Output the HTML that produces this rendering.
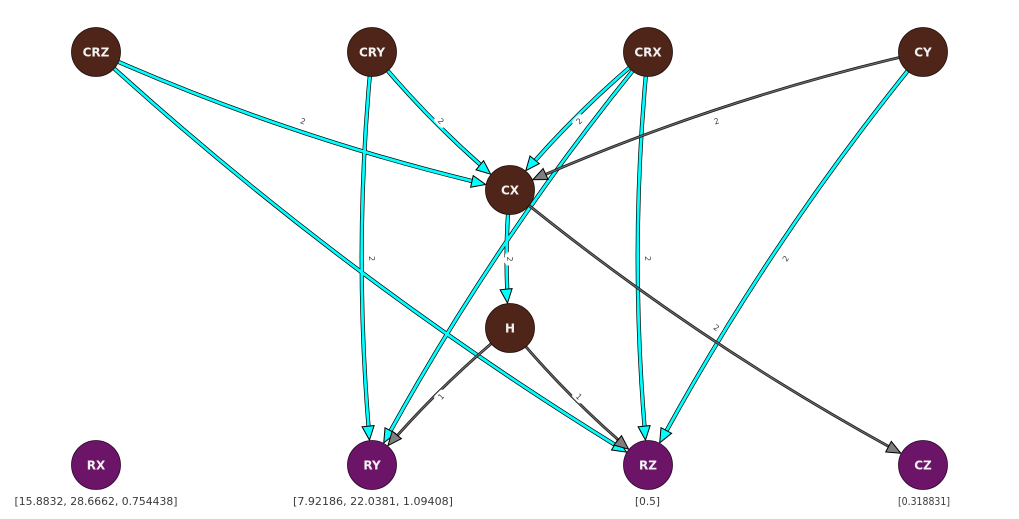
<!DOCTYPE html>
<html>
<head>
<meta charset="utf-8">
<style>
  html, body { margin: 0; padding: 0; background: #ffffff; }
  svg { display: block; }
  .nl { font-family: "DejaVu Sans", "Liberation Sans", sans-serif; font-weight: bold; font-size: 12px; fill: #f2f2f2; text-anchor: middle; }
  .bl { font-family: "DejaVu Sans", "Liberation Sans", sans-serif; font-size: 10.5px; fill: #3a3a3a; text-anchor: middle; }
  .el { font-family: "DejaVu Sans", "Liberation Sans", sans-serif; font-size: 8px; fill: #444; text-anchor: middle; }
</style>
</head>
<body>
<svg width="1019" height="519" viewBox="0 0 1019 519" xmlns="http://www.w3.org/2000/svg">
  <rect width="1019" height="519" fill="#ffffff"/>

  <!-- cyan edges: black outline -->
  <g fill="none" stroke="#000" stroke-width="4.2">
    <path d="M96,52 Q296.1,141.7 510,190" pathLength="1000" stroke-dasharray="915.2 2000"/>
    <path d="M96,52 Q351.35,286.1 648,465" pathLength="1000" stroke-dasharray="946.3 2000"/>
    <path d="M372,52 Q434.1,127.9 510,190" pathLength="1000" stroke-dasharray="810.5 2000"/>
    <path d="M372,52 Q351.35,258.5 372,465" pathLength="1000" stroke-dasharray="910.4 2000"/>
    <path d="M648,52 Q572.1,114.1 510,190" pathLength="1000" stroke-dasharray="810.5 2000"/>
    <path d="M648,52 Q489.35,244.7 372,465" pathLength="1000" stroke-dasharray="925.5 2000"/>
    <path d="M648,52 Q627.35,258.5 648,465" pathLength="1000" stroke-dasharray="910.4 2000"/>
    <path d="M923,52 Q764.85,244.75 648,465" pathLength="1000" stroke-dasharray="925.4 2000"/>
    <path d="M510,190 Q503.1,259 510,328" pathLength="1000" stroke-dasharray="731.9 2000"/>
  </g>
  <!-- cyan edges: core -->
  <g fill="none" stroke="#00ffff" stroke-width="2.8">
    <path d="M96,52 Q296.1,141.7 510,190" pathLength="1000" stroke-dasharray="915.2 2000"/>
    <path d="M96,52 Q351.35,286.1 648,465" pathLength="1000" stroke-dasharray="946.3 2000"/>
    <path d="M372,52 Q434.1,127.9 510,190" pathLength="1000" stroke-dasharray="810.5 2000"/>
    <path d="M372,52 Q351.35,258.5 372,465" pathLength="1000" stroke-dasharray="910.4 2000"/>
    <path d="M648,52 Q572.1,114.1 510,190" pathLength="1000" stroke-dasharray="810.5 2000"/>
    <path d="M648,52 Q489.35,244.7 372,465" pathLength="1000" stroke-dasharray="925.5 2000"/>
    <path d="M648,52 Q627.35,258.5 648,465" pathLength="1000" stroke-dasharray="910.4 2000"/>
    <path d="M923,52 Q764.85,244.75 648,465" pathLength="1000" stroke-dasharray="925.4 2000"/>
    <path d="M510,190 Q503.1,259 510,328" pathLength="1000" stroke-dasharray="731.9 2000"/>
  </g>

  <!-- gray edges -->
  <g fill="none" stroke="#1a1a1a" stroke-width="2.8">
    <path d="M923,52 Q709.6,100.35 510,190" pathLength="1000" stroke-dasharray="915.0 2000"/>
    <path d="M510,190 Q702.75,348.15 923,465" pathLength="1000" stroke-dasharray="925.4 2000"/>
    <path d="M510,328 Q434.15,389.6 372,465" pathLength="1000" stroke-dasharray="809.8 2000"/>
    <path d="M510,328 Q572.15,403.4 648,465" pathLength="1000" stroke-dasharray="809.8 2000"/>
  </g>
  <g fill="none" stroke="#6e6e6e" stroke-width="1.2">
    <path d="M923,52 Q709.6,100.35 510,190" pathLength="1000" stroke-dasharray="915.0 2000"/>
    <path d="M510,190 Q702.75,348.15 923,465" pathLength="1000" stroke-dasharray="925.4 2000"/>
    <path d="M510,328 Q434.15,389.6 372,465" pathLength="1000" stroke-dasharray="809.8 2000"/>
    <path d="M510,328 Q572.15,403.4 648,465" pathLength="1000" stroke-dasharray="809.8 2000"/>
  </g>

  <!-- cyan arrowheads -->
  <g fill="#00ffff" stroke="#000" stroke-width="1" stroke-linejoin="miter">
    <polygon points="485.6,184.5 470.6,187.3 473.2,175.6"/>
    <polygon points="626.6,452.1 611.5,450.0 617.7,439.7"/>
    <polygon points="490.65,174.2 476.0,169.9 483.6,160.7"/>
    <polygon points="369.5,440.1 362.1,426.8 374.1,425.6"/>
    <polygon points="525.8,170.65 530.0,156.0 539.3,163.6"/>
    <polygon points="383.75,442.9 385.0,427.8 395.6,433.4"/>
    <polygon points="645.5,440.1 638.1,426.8 650.1,425.6"/>
    <polygon points="659.7,442.9 661.0,427.7 671.6,433.3"/>
    <polygon points="507.5,303.1 500.1,289.8 512.1,288.6"/>
  </g>
  <!-- gray arrowheads -->
  <g fill="#7f7f7f" stroke="#000" stroke-width="1">
    <polygon points="532.8,179.76 543.1,168.5 548.1,179.5"/>
    <polygon points="900.9,453.3 885.7,452.0 891.3,441.4"/>
    <polygon points="387.9,445.7 392.2,431.1 401.4,438.7"/>
    <polygon points="628.6,449.2 613.9,445.1 621.5,435.7"/>
  </g>

  <!-- nodes -->
  <g stroke="#1e0e0a" stroke-width="0.8">
    <circle cx="96" cy="52" r="24.5" fill="#4f2519"/>
    <circle cx="372" cy="52" r="24.5" fill="#4f2519"/>
    <circle cx="648" cy="52" r="24.5" fill="#4f2519"/>
    <circle cx="923" cy="52" r="24.5" fill="#4f2519"/>
    <circle cx="510" cy="190" r="24.5" fill="#4f2519"/>
    <circle cx="510" cy="328" r="24.5" fill="#4f2519"/>
  </g>
  <g stroke="#2a0628" stroke-width="0.8">
    <circle cx="96" cy="465" r="24.5" fill="#6c1468"/>
    <circle cx="372" cy="465" r="24.5" fill="#6c1468"/>
    <circle cx="648" cy="465" r="24.5" fill="#6c1468"/>
    <circle cx="923" cy="465" r="24.5" fill="#6c1468"/>
  </g>

  <!-- node labels -->
  <text class="nl" x="96" y="56.5">CRZ</text>
  <text class="nl" x="372" y="56.5">CRY</text>
  <text class="nl" x="648" y="56.5">CRX</text>
  <text class="nl" x="923" y="56.5">CY</text>
  <text class="nl" x="510" y="194.5">CX</text>
  <text class="nl" x="510" y="332.5">H</text>
  <text class="nl" x="96" y="469.5">RX</text>
  <text class="nl" x="372" y="469.5">RY</text>
  <text class="nl" x="648" y="469.5">RZ</text>
  <text class="nl" x="923" y="469.5">CZ</text>

  <!-- edge labels -->
  <g>
    <g transform="translate(303,121) rotate(18.4)"><rect x="-6.5" y="-5" width="13" height="10" rx="3" fill="#fff"/><text class="el" y="3">2</text></g>
    <g transform="translate(372,258.5) rotate(36.8)"><rect x="-6.5" y="-5" width="13" height="10" rx="3" fill="#fff"/><text class="el" y="3">2</text></g>
    <g transform="translate(441,121) rotate(45)"><rect x="-6.5" y="-5" width="13" height="10" rx="3" fill="#fff"/><text class="el" y="3">2</text></g>
    <g transform="translate(372,258.5) rotate(90)"><rect x="-6.5" y="-5" width="13" height="10" rx="3" fill="#fff"/><text class="el" y="3">2</text></g>
    <g transform="translate(579,121) rotate(-45)"><rect x="-6.5" y="-5" width="13" height="10" rx="3" fill="#fff"/><text class="el" y="3">2</text></g>
    <g transform="translate(510,258.5) rotate(-56.25)"><rect x="-6.5" y="-5" width="13" height="10" rx="3" fill="#fff"/><text class="el" y="3">2</text></g>
    <g transform="translate(648,258.5) rotate(90)"><rect x="-6.5" y="-5" width="13" height="10" rx="3" fill="#fff"/><text class="el" y="3">2</text></g>
    <g transform="translate(716.5,121) rotate(-18.5)"><rect x="-6.5" y="-5" width="13" height="10" rx="3" fill="#fff"/><text class="el" y="3">2</text></g>
    <g transform="translate(785.5,258.5) rotate(-56.3)"><rect x="-6.5" y="-5" width="13" height="10" rx="3" fill="#fff"/><text class="el" y="3">2</text></g>
    <g transform="translate(510,259) rotate(90)"><rect x="-6.5" y="-5" width="13" height="10" rx="3" fill="#fff"/><text class="el" y="3">2</text></g>
    <g transform="translate(716.5,327.5) rotate(33.7)"><rect x="-6.5" y="-5" width="13" height="10" rx="3" fill="#fff"/><text class="el" y="3">2</text></g>
    <g transform="translate(441,396.5) rotate(-44.8)"><rect x="-6.5" y="-5" width="13" height="10" rx="3" fill="#fff"/><text class="el" y="3">1</text></g>
    <g transform="translate(579,396.5) rotate(44.8)"><rect x="-6.5" y="-5" width="13" height="10" rx="3" fill="#fff"/><text class="el" y="3">1</text></g>
  </g>

  <!-- bottom value labels -->
  <text class="bl" x="96" y="505" textLength="163" lengthAdjust="spacingAndGlyphs">[15.8832, 28.6662, 0.754438]</text>
  <text class="bl" x="373" y="505" textLength="160" lengthAdjust="spacingAndGlyphs">[7.92186, 22.0381, 1.09408]</text>
  <text class="bl" x="647.5" y="505" textLength="25" lengthAdjust="spacingAndGlyphs">[0.5]</text>
  <text class="bl" x="924" y="505" textLength="52" lengthAdjust="spacingAndGlyphs">[0.318831]</text>
</svg>
</body>
</html>
